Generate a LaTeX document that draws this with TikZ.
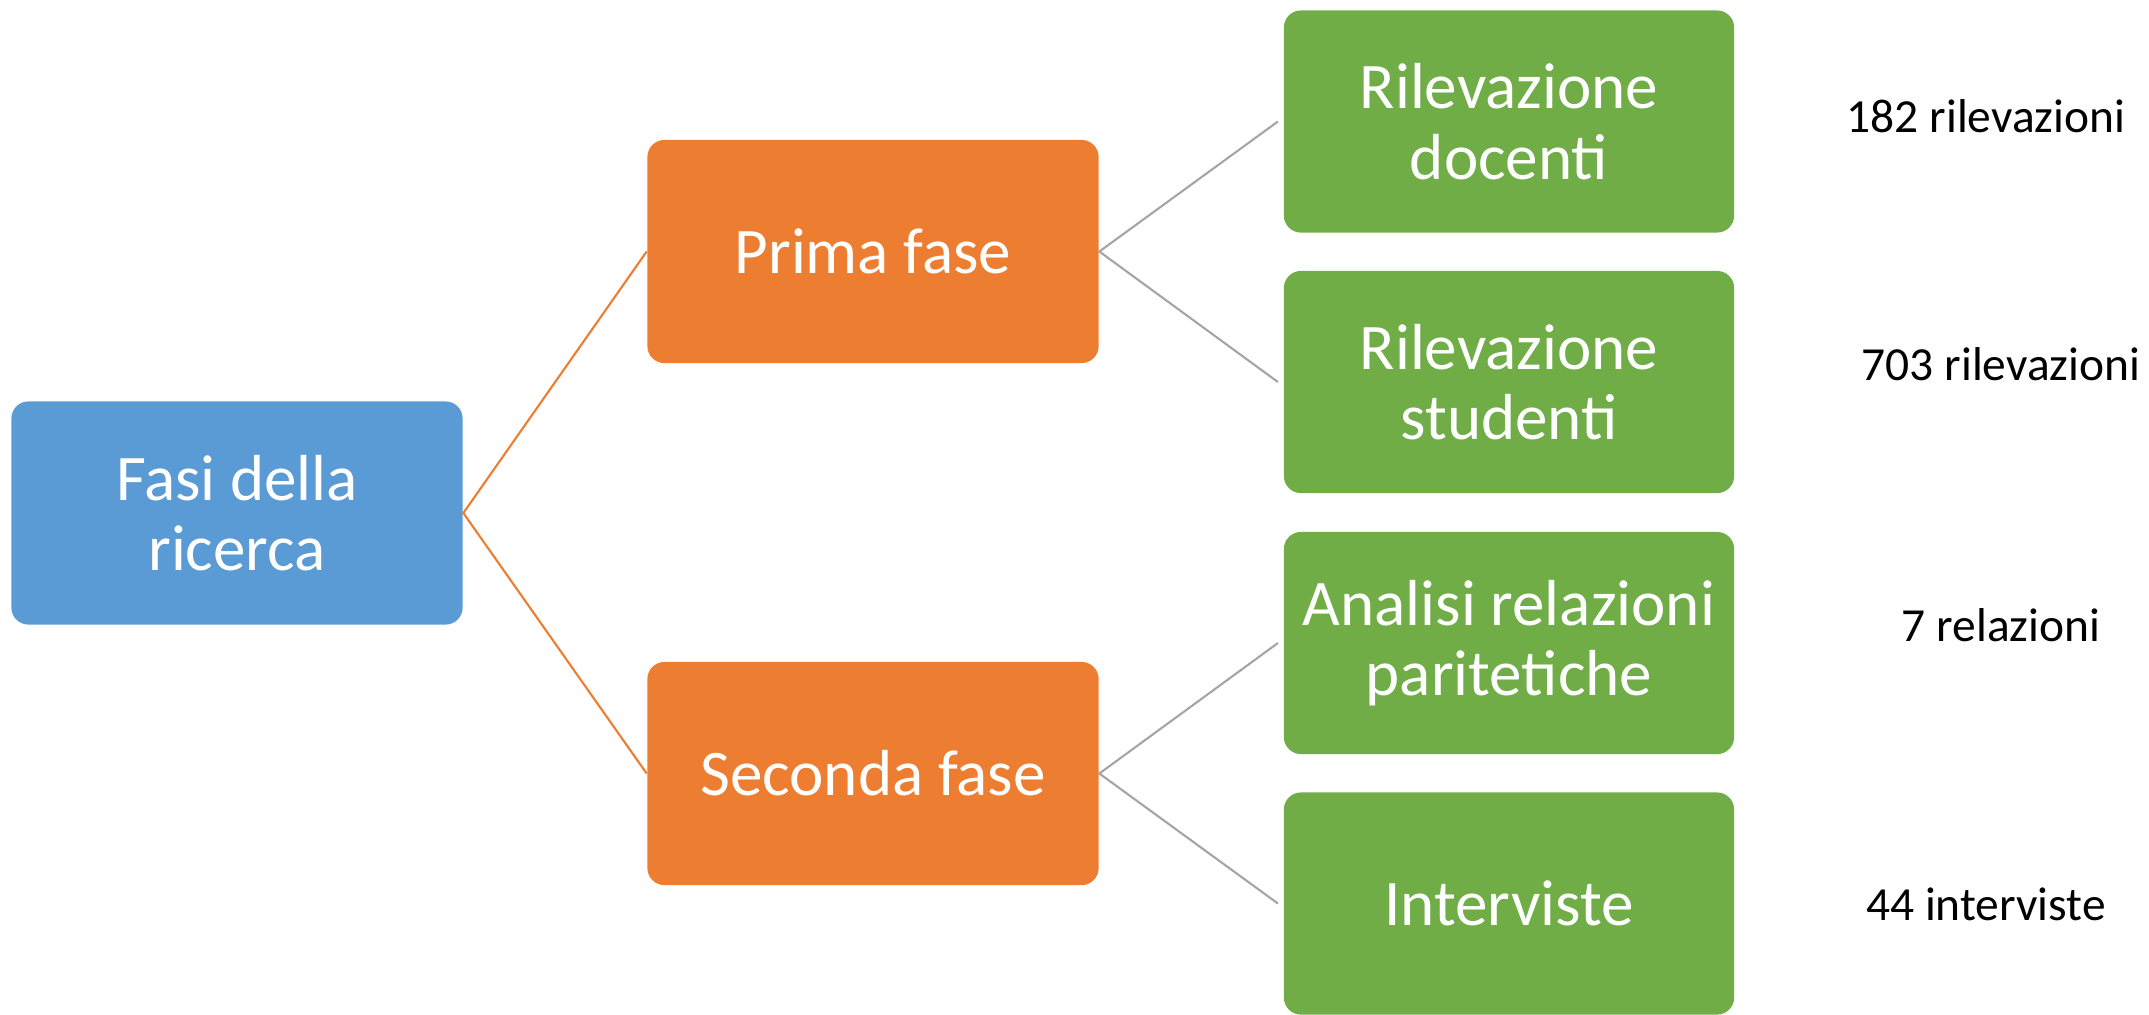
\documentclass[tikz,border=0pt]{standalone}
\usepackage{fontspec}
\setmainfont{Carlito}
\usetikzlibrary{positioning}
\definecolor{rootblue}{HTML}{5B9BD5}
\definecolor{phaseorange}{HTML}{ED7D31}
\definecolor{stepgreen}{HTML}{70AD47}
\definecolor{linkgray}{HTML}{A5A5A5}

\begin{document}
\begin{tikzpicture}[x=0.01cm,y=-0.01cm]

  \tikzstyle{box} = [rounded corners=0.17cm,minimum width=4.51cm,minimum height=2.23cm,
                     text=white,align=center,font=\fontsize{18.5}{20}\selectfont]
  \tikzstyle{root} = [box,fill=rootblue]
  \tikzstyle{phase} = [box,fill=phaseorange]
  \tikzstyle{task} = [box,fill=stepgreen,minimum width=4.5cm,minimum height=2.22cm]
  \tikzstyle{count} = [font=\fontsize{13.5}{16}\selectfont]
  \tikzstyle{orangelink} = [draw=phaseorange,line width=0.6pt]
  \tikzstyle{graylink} = [draw=linkgray,line width=0.6pt]

  \useasboundingbox (0,0) rectangle (2149,1014);

  \node[root] (fasi) at (237,513) {Fasi della\\ricerca};

  \node[phase] (prima) at (873,251.5) {Prima fase};
  \node[phase] (seconda) at (873,773.5) {Seconda fase};

  \node[task] (docenti) at (1509,121.5) {Rilevazione\\docenti};
  \node[task] (studenti) at (1509,382) {Rilevazione\\studenti};
  \node[task] (relazioni) at (1509,643) {Analisi relazioni\\paritetiche};
  \node[task] (interviste) at (1509,903.5) {Interviste};

  \node[count] (ndocenti) at (1986,116.5) {182 rilevazioni};
  \node[count] (nstudenti) at (2001,364.5) {703 rilevazioni};
  \node[count] (nrelazioni) at (2001,625) {7 relazioni};
  \node[count] (ninterviste) at (1986,904.5) {44 interviste};

  % root to phases
  \draw[orangelink] (prima.west) -- (fasi.east) -- (seconda.west);

  % phases to tasks
  \draw[graylink] ([xshift=-1.5pt]docenti.west) -- (prima.east) -- ([xshift=-1.5pt]studenti.west);
  \draw[graylink] ([xshift=-1.5pt]relazioni.west) -- (seconda.east) -- ([xshift=-1.5pt]interviste.west);

\end{tikzpicture}
\end{document}
